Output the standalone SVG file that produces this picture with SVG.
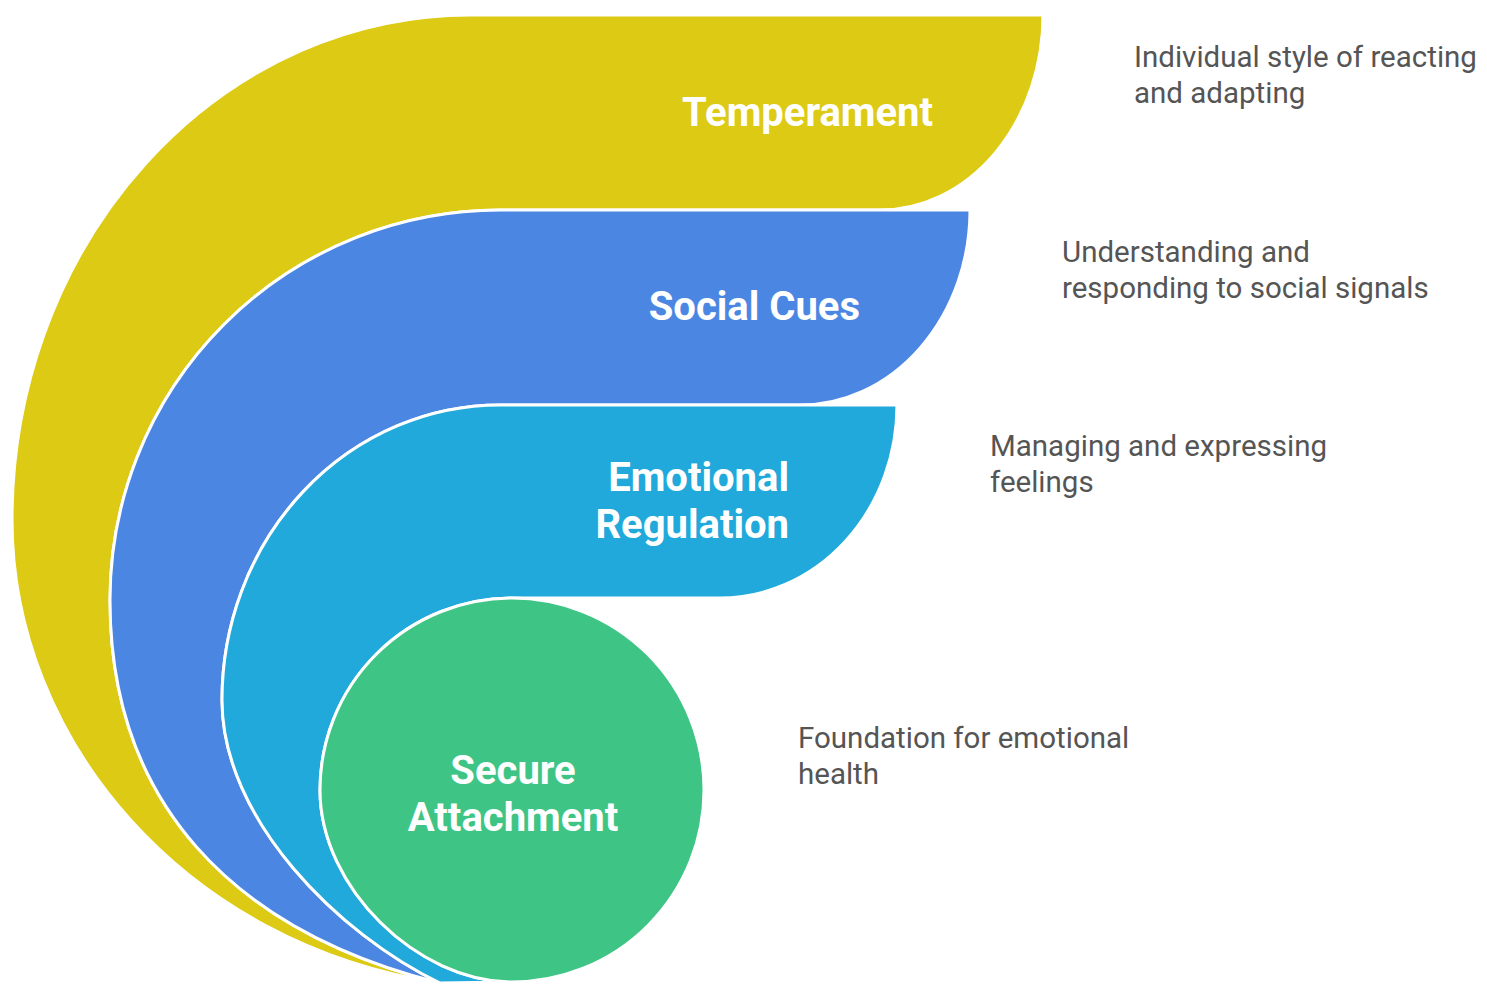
<svg xmlns="http://www.w3.org/2000/svg" width="1487" height="987" viewBox="0 0 1487 987">
<style>
.layer{stroke:#ffffff;stroke-width:3;stroke-linejoin:round}
.label{font-family:Roboto,"Liberation Sans",sans-serif;font-weight:700;font-size:40px;fill:#ffffff}
.desc{font-family:Roboto,"Liberation Sans",sans-serif;font-size:29.5px;fill:#555555}
</style>
<rect width="1487" height="987" fill="#ffffff"/>
<g id="temperament">
<path class="layer" fill="#DDCA15" d="M440 983 C185 945 12 740 12 520 A458 505 0 0 1 470 15 H1043 A163 195 0 0 1 880 210 H500 A390 390 0 0 0 110 600 C110 800 230 930 440 983 Z"/>
<text class="label" x="933" y="126" text-anchor="end">Temperament</text>
</g>
<g id="social-cues">
<path class="layer" fill="#4B87E2" d="M440 983 C230 930 110 800 110 600 A390 390 0 0 1 500 210 H970 A170 195 0 0 1 800 405 H500 A278 295 0 0 0 222 700 C222 820 340 935 440 983 Z"/>
<text class="label" x="860" y="320" text-anchor="end">Social Cues</text>
</g>
<g id="emotional-regulation">
<path class="layer" fill="#20A9DA" d="M440 983 C340 935 222 820 222 700 A278 295 0 0 1 500 405 H897 A177 193 0 0 1 720 598 H512 A192 192 0 0 0 320 790 C320 888 418 982 512 982 Z"/>
<text class="label" x="789" y="491" text-anchor="end">Emotional</text>
<text class="label" x="789" y="538" text-anchor="end">Regulation</text>
</g>
<g id="secure-attachment">
<path class="layer" fill="#3EC585" d="M512 598 A192 192 0 0 1 704 790 A192 192 0 0 1 512 982 C418 982 320 888 320 790 A192 192 0 0 1 512 598 Z"/>
<text class="label" x="513" y="784" text-anchor="middle">Secure</text>
<text class="label" x="513" y="831" text-anchor="middle">Attachment</text>
</g>
<g id="descriptions">
<text class="desc" x="1134" y="67">Individual style of reacting</text>
<text class="desc" x="1134" y="103">and adapting</text>
<text class="desc" x="1062" y="262">Understanding and</text>
<text class="desc" x="1062" y="298">responding to social signals</text>
<text class="desc" x="990" y="456">Managing and expressing</text>
<text class="desc" x="990" y="492">feelings</text>
<text class="desc" x="798" y="748">Foundation for emotional</text>
<text class="desc" x="798" y="784">health</text>
</g>
<g id="connectors"></g>
</svg>
